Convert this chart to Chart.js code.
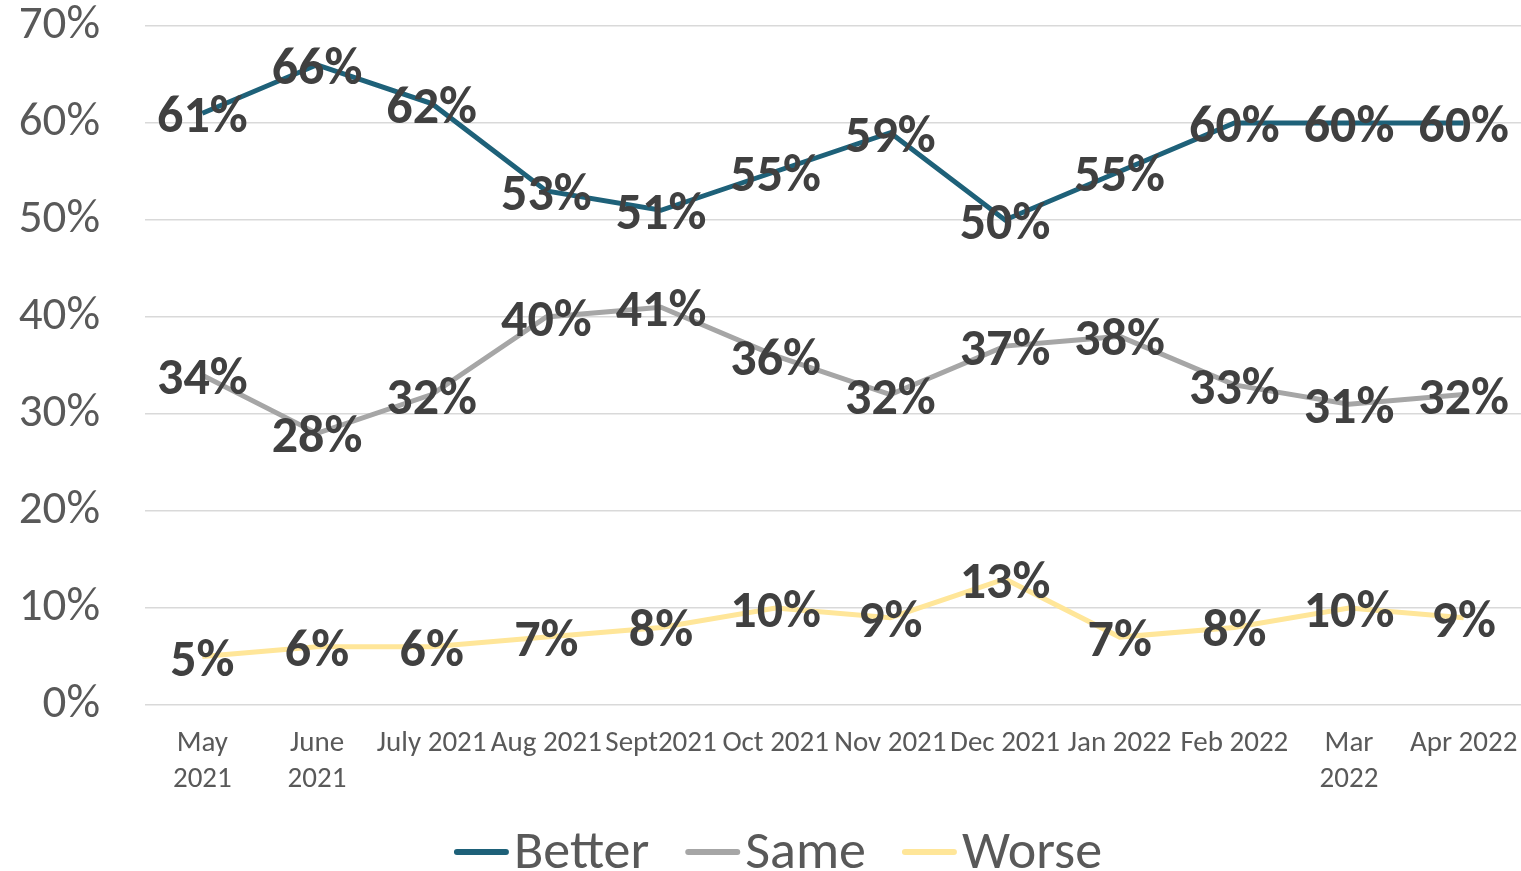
<!DOCTYPE html>
<html>
<head>
<meta charset="utf-8">
<script src="https://cdn.jsdelivr.net/npm/chart.js@4/dist/chart.umd.min.js"></script>
<style>
  html, body { margin: 0; padding: 0; background: #fff; }
  #wrap { width: 1521px; height: 871px; }
</style>
</head>
<body>
<div id="wrap"><canvas id="chart" width="1521" height="871"></canvas></div>
<script>
const months = [
  ['May', '2021'], ['June', '2021'], 'July 2021', 'Aug 2021', 'Sept2021', 'Oct 2021',
  'Nov 2021', 'Dec 2021', 'Jan 2022', 'Feb 2022', ['Mar', '2022'], 'Apr 2022'
]
const better = [61, 66, 62, 53, 51, 55, 59, 50, 55, 60, 60, 60]
const same = [34, 28, 32, 40, 41, 36, 32, 37, 38, 33, 31, 32]
const worse = [5, 6, 6, 7, 8, 10, 9, 13, 7, 8, 10, 9]

const FONT = 'Carlito, Lato, "Open Sans", sans-serif'

// writes each value centred on its point
const pointLabels = {
  id: 'pointLabels',
  afterDatasetsDraw(chart) {
    const { ctx } = chart
    ctx.save()
    ctx.font = 'bold 52px ' + FONT
    ctx.fillStyle = '#404040'
    ctx.textAlign = 'center'
    ctx.textBaseline = 'middle'
    chart.data.datasets.forEach(function (ds, i) {
      chart.getDatasetMeta(i).data.forEach(function (pt, j) {
        ctx.fillText(ds.data[j] + '%', pt.x, pt.y + 6)
      })
    })
    ctx.restore()
  }
}

// legend with a short line right before each name
const lineLegend = {
  id: 'lineLegend',
  afterDraw(chart) {
    const { ctx } = chart
    const sets = chart.data.datasets
    const mark = 55, gap = 5, between = 36, y = 852
    ctx.save()
    ctx.font = '54px ' + FONT
    ctx.textBaseline = 'middle'
    let total = 0
    sets.forEach(function (ds, i) {
      total += mark + gap + ctx.measureText(ds.label).width + (i ? between : 0)
    })
    let x = 778 - total / 2
    sets.forEach(function (ds) {
      ctx.strokeStyle = ds.borderColor
      ctx.lineWidth = 6
      ctx.lineCap = 'round'
      ctx.beginPath()
      ctx.moveTo(x + 3, y)
      ctx.lineTo(x + mark - 3, y)
      ctx.stroke()
      x += mark + gap
      ctx.fillStyle = '#595959'
      ctx.fillText(ds.label, x, y + 2)
      x += ctx.measureText(ds.label).width + between
    })
    ctx.restore()
  }
}

function line(label, data, color) {
  return {
    label: label,
    data: data,
    borderColor: color,
    backgroundColor: color,
    borderWidth: 5,
    pointRadius: 0,
    tension: 0
  }
}

new Chart(document.getElementById('chart'), {
  type: 'line',
  data: {
    labels: months,
    datasets: [
      line('Better', better, '#1E6179'),
      line('Same', same, '#A6A6A6'),
      line('Worse', worse, '#FFE699')
    ]
  },
  options: {
    responsive: false,
    animation: false,
    layout: { padding: 0 },
    scales: {
      y: {
        min: 0,
        max: 70,
        ticks: {
          stepSize: 10,
          padding: 45,
          color: '#595959',
          font: { family: FONT, size: 47 },
          callback: function (v) { return v + '%' }
        },
        grid: { color: '#D9D9D9', lineWidth: 1.5, drawTicks: false },
        border: { display: false },
        afterFit: function (scale) {
          scale.width = 145
          scale.paddingTop = 26
          scale.paddingBottom = 0
        }
      },
      x: {
        offset: true,
        ticks: {
          maxRotation: 0,
          autoSkip: false,
          padding: 13,
          color: '#595959',
          font: { family: FONT, size: 29, lineHeight: 1.24 }
        },
        grid: { display: false },
        border: { display: false },
        afterFit: function (scale) {
          scale.height = 166
          scale.paddingLeft = 0
          scale.paddingRight = 0
        }
      }
    },
    plugins: {
      legend: { display: false },
      tooltip: { enabled: false }
    }
  },
  plugins: [pointLabels, lineLegend]
})
</script>
</body>
</html>
